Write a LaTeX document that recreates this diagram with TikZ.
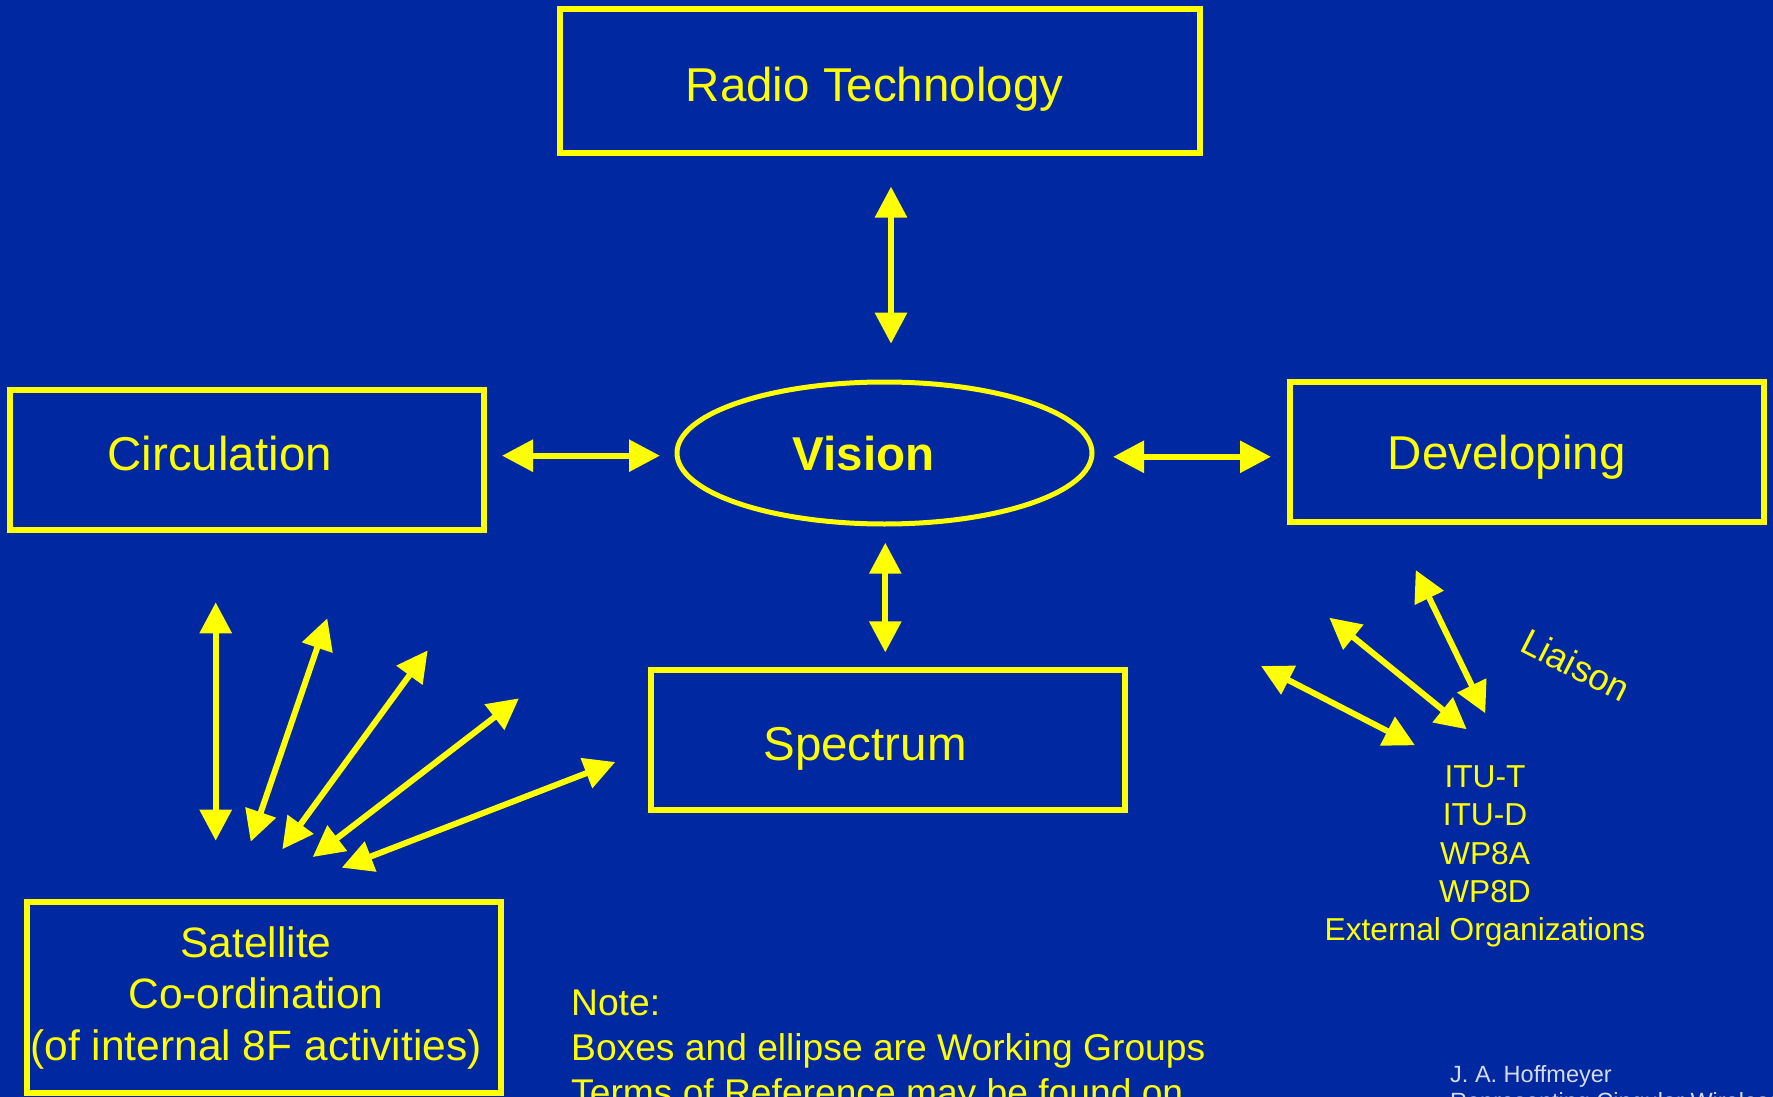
\documentclass[tikz,border=0pt]{standalone}
\usepackage{fontspec}
\setmainfont{Liberation Sans}
\usetikzlibrary{arrows.meta,shapes.geometric}
\definecolor{slideblue}{RGB}{0,40,160}
\definecolor{wgyellow}{RGB}{255,255,0}
\definecolor{authorgrey}{RGB}{214,218,232}

\begin{document}
\begin{tikzpicture}[x=1pt,y=-1pt,
  wgbox/.style={draw=wgyellow, line width=6pt, rectangle, inner sep=0pt,
                minimum width=474pt, minimum height=140pt},
  wgtext/.style={text=wgyellow, inner sep=0pt, anchor=base},
  bigtext/.style={wgtext, font=\fontsize{47.5}{57}\selectfont},
  sattext/.style={wgtext, font=\fontsize{42.5}{51}\selectfont},
  notetext/.style={wgtext, anchor=base west, font=\fontsize{37.2}{45}\selectfont},
  listtext/.style={wgtext, font=\fontsize{31.7}{38}\selectfont},
  authortext/.style={inner sep=0pt, anchor=base west, text=authorgrey,
                     font=\fontsize{23.5}{27}\selectfont},
  twoway/.style={draw=wgyellow, line width=6pt,
    {Triangle[width=31pt,length=31pt]}-{Triangle[width=31pt,length=31pt]}}]

\useasboundingbox (0,0) rectangle (1773,1097);
\fill[slideblue] (0,0) rectangle (1773,1097);
\begin{scope}
\clip (0,0) rectangle (1773,1097);

% working groups
\node[wgbox, minimum width=640pt, minimum height=144pt] (radio) at (879.5,81) {};
\node[wgbox] (circ) at (247.3,459.7) {};
\node[wgbox] (dev) at (1527.3,452.2) {};
\node[wgbox] (spec) at (887.5,740) {};
\node[wgbox, minimum height=191pt] (sat) at (263.7,997.5) {};
\node[draw=wgyellow, line width=5pt, ellipse, inner sep=0pt,
      minimum width=415pt, minimum height=142pt] (vision) at (884.5,453) {};

% group names
\node[bigtext] (radiot) at (874.6,101.7) {Radio Technology};
\node[bigtext] (circt) at (219.7,470) {Circulation};
\node[bigtext, font=\fontsize{47.5}{57}\selectfont\bfseries] (visiont) at (863.7,470) {Vision};
\node[bigtext] (devt) at (1506.8,469.3) {Developing};
\node[bigtext] (spect) at (865,760) {Spectrum};
\node[sattext] (sat1) at (256,957.3) {Satellite};
\node[sattext] (sat2) at (256,1008.3) {Co-ordination};
\node[sattext] (sat3) at (256,1060) {(of internal 8F activities)};

% liaison partners
\node[listtext] (l1) at (1485,787) {ITU-T};
\node[listtext] (l2) at (1485,825.5) {ITU-D};
\node[listtext] (l3) at (1485,864) {WP8A};
\node[listtext] (l4) at (1485,902.3) {WP8D};
\node[listtext] (l5) at (1485,940.7) {External Organizations};
\node[text=wgyellow, inner sep=0pt, rotate=-27, font=\fontsize{36.5}{44}\selectfont]
  (liaison) at (1576,665) {Liaison};

% note and author
\node[notetext] (n1) at (571,1015) {Note:};
\node[notetext] (n2) at (571,1060) {Boxes and ellipse are Working Groups};
\node[notetext] (n3) at (571,1105) {Terms of Reference may be found on};
\node[authortext] (a1) at (1450,1082) {J. A. Hoffmeyer};
\node[authortext] (a2) at (1450,1109) {Representing Cingular Wireless};

% arrow end points
\coordinate (rvA) at (891,186.6);   \coordinate (rvB) at (891,343.7);
\coordinate (cvA) at (502,455.7);   \coordinate (cvB) at (660,455.7);
\coordinate (vdA) at (1113,456.8);  \coordinate (vdB) at (1271,456.8);
\coordinate (vsA) at (885.3,542.7); \coordinate (vsB) at (885.3,652.4);

\coordinate (s1A) at (215.7,602.3); \coordinate (s1B) at (215.7,840.7);
\coordinate (s2A) at (327.3,618.3); \coordinate (s2B) at (250.7,841.7);
\coordinate (s3A) at (427.7,650.3); \coordinate (s3B) at (282.3,849.3);
\coordinate (s4A) at (519,698.3);   \coordinate (s4B) at (312.7,857);
\coordinate (s5A) at (615.3,762);   \coordinate (s5B) at (341.7,867.7);

\coordinate (x1A) at (1261,666);     \coordinate (x1B) at (1415,745.3);
\coordinate (x2A) at (1329.3,617.7); \coordinate (x2B) at (1466.7,729.3);
\coordinate (x3A) at (1415.7,570);   \coordinate (x3B) at (1485.3,713.3);

% two-way arrows
\foreach \p in {rv,cv,vd,vs,s1,s2,s3,s4,s5,x1,x2,x3}
  \draw[twoway] (\p A) -- (\p B);
\end{scope}
\end{tikzpicture}
\end{document}
